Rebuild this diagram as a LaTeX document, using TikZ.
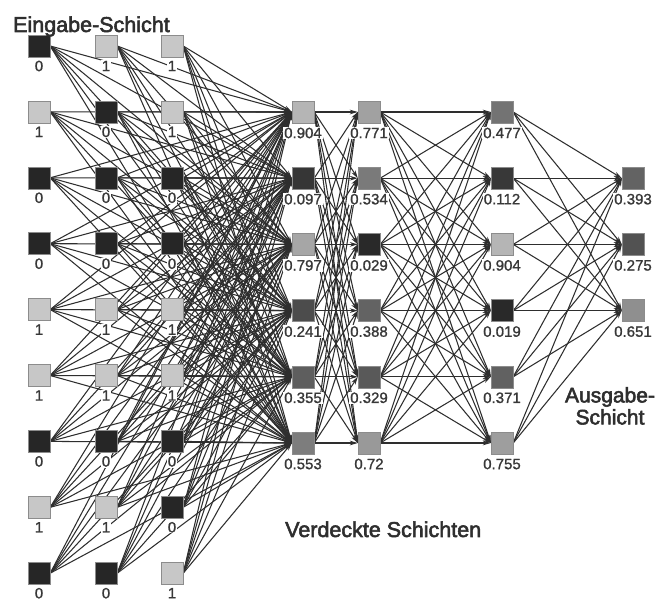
\documentclass[tikz,border=0pt]{standalone}
\usepackage{fontspec}
\setmainfont{Liberation Sans}
\newfontfamily\capfont{Liberation Sans}[FakeBold=2.5]
\newfontfamily\valfont{Liberation Sans}[FakeBold=1.2]
\usetikzlibrary{arrows.meta,backgrounds}

\begin{document}
\begin{tikzpicture}[x=1pt,y=-1pt,
  unit/.style={rectangle, minimum size=22pt, inner sep=0pt, draw=black!45, line width=0.4pt},
  vlabel/.style={fill=white, inner sep=0.8pt, font=\valfont\fontsize{15}{15}\selectfont, text=black!78},
  title/.style={font=\capfont\fontsize{21.5}{22}\selectfont, text=black!82, inner sep=0pt},
  link/.style={draw=black!82, line width=1.05pt, -{Stealth[length=8pt,width=4.6pt]}},
]
\useasboundingbox (0,0) rectangle (665,601);

% input layer: three columns of nine binary units
\foreach \r/\a/\b/\d in {1/0/1/1, 2/1/0/1, 3/0/0/0, 4/0/0/0, 5/1/1/1,
                         6/1/1/1, 7/0/0/0, 8/1/1/0, 9/0/0/1} {
  \pgfmathsetmacro\y{46+65.9*(\r-1)}
  \foreach \c/\x/\v in {1/39/\a, 2/106/\b, 3/172/\d} {
    \pgfmathtruncatemacro\p{15+63*\v}
    \node[unit, fill=white!\p!black] (in-\c-\r) at (\x,\y) {};
    \node[vlabel] (in-\c-\r-v) at (\x,\y+20) {\v};
  }
}

% hidden layers
\foreach \v [count=\r] in {0.904,0.097,0.797,0.241,0.355,0.553} {
  \pgfmathsetmacro\y{112+66.2*(\r-1)}
  \pgfmathtruncatemacro\p{15+63*\v}
  \node[unit, fill=white!\p!black] (h1-\r) at (303,\y) {};
  \node[vlabel] (h1-\r-v) at (303,\y+21) {\v};
}
\foreach \v [count=\r] in {0.771,0.534,0.029,0.388,0.329,0.72} {
  \pgfmathsetmacro\y{112+66.2*(\r-1)}
  \pgfmathtruncatemacro\p{15+63*\v}
  \node[unit, fill=white!\p!black] (h2-\r) at (369,\y) {};
  \node[vlabel] (h2-\r-v) at (369,\y+21) {\v};
}
\foreach \v [count=\r] in {0.477,0.112,0.904,0.019,0.371,0.755} {
  \pgfmathsetmacro\y{112+66.2*(\r-1)}
  \pgfmathtruncatemacro\p{15+63*\v}
  \node[unit, fill=white!\p!black] (h3-\r) at (502,\y) {};
  \node[vlabel] (h3-\r-v) at (502,\y+21) {\v};
}

% output layer
\foreach \v [count=\r] in {0.393,0.275,0.651} {
  \pgfmathsetmacro\y{178.2+66.2*(\r-1)}
  \pgfmathtruncatemacro\p{15+63*\v}
  \node[unit, fill=white!\p!black] (out-\r) at (633,\y) {};
  \node[vlabel] (out-\r-v) at (633,\y+21) {\v};
}

% connections, drawn beneath units and values
\begin{pgfonlayer}{background}
  \fill[white] (0,0) rectangle (665,601);
  \foreach \c in {1,2,3}
    \foreach \r in {1,...,9}
      \foreach \j in {1,...,6}
        \draw[link] (in-\c-\r.east) -- (h1-\j.west);
  \foreach \i in {1,...,6}
    \foreach \j in {1,...,6} {
      \draw[link] (h1-\i.east) -- (h2-\j.west);
      \draw[link] (h2-\i.east) -- (h3-\j.west);
    }
  \foreach \i in {1,...,6}
    \foreach \j in {1,2,3}
      \draw[link] (h3-\i.east) -- (out-\j.west);
\end{pgfonlayer}

% layer captions
\node[title, anchor=base west] (cap-in) at (13,32) {Eingabe-Schicht};
\node[title, anchor=base west] (cap-hid) at (285,537) {Verdeckte Schichten};
\node[title, font=\capfont\fontsize{21}{22}\selectfont, align=center, anchor=north] (cap-out) at (610,387) {Ausgabe-\\Schicht};
\end{tikzpicture}
\end{document}
